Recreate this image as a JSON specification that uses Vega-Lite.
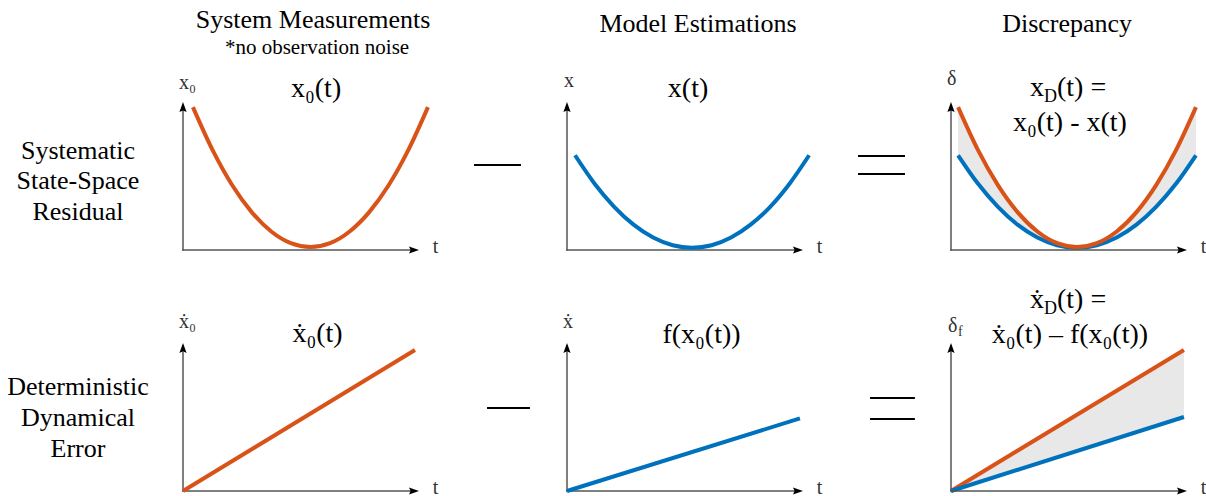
{
"$schema": "https://vega.github.io/schema/vega-lite/v6.json",
"background": "white",
"padding": 0,
"columns": 4,
"spacing": {"row": 0, "column": 148},
"bounds": "flush",
"align": "each",
"config": {"view": {"stroke": null}, "font": "'Liberation Serif', 'DejaVu Serif', serif", "text": {"font": "'Liberation Serif', 'DejaVu Serif', serif"}, "axis": {"disable": true}},
"concat": [
{"width": 35, "height": 250, "data": {"values": [{}]}, "mark": {"type": "text", "text": ""}},
{"width": 236, "height": 250, "layer": [
 {"data": {"values": [{}]}, "mark": {"type": "text", "text": ["Systematic", "State-Space", "Residual"], "fontSize": 26, "lineHeight": 30.5, "align": "center", "baseline": "alphabetic", "color": "#000"},
  "encoding": {"x": {"datum": -0.445, "type": "quantitative", "scale": {"domain": [0, 1], "nice": false, "zero": false}}, "y": {"datum": 0.615, "type": "quantitative", "scale": {"domain": [0, 1.689], "nice": false, "zero": false}}}},
 {"data": {"values": [{}]}, "mark": {"type": "text", "text": "System Measurements", "fontSize": 26, "align": "center", "baseline": "alphabetic", "color": "#000"},
  "encoding": {"x": {"datum": 0.551, "type": "quantitative", "scale": {"domain": [0, 1], "nice": false, "zero": false}}, "y": {"datum": 1.5, "type": "quantitative", "scale": {"domain": [0, 1.689], "nice": false, "zero": false}}}},
 {"data": {"values": [{}]}, "mark": {"type": "text", "text": "*no observation noise", "fontSize": 21, "align": "center", "baseline": "alphabetic", "color": "#000"},
  "encoding": {"x": {"datum": 0.568, "type": "quantitative", "scale": {"domain": [0, 1], "nice": false, "zero": false}}, "y": {"datum": 1.324, "type": "quantitative", "scale": {"domain": [0, 1.689], "nice": false, "zero": false}}}},
 {"data": {"values": [{}]}, "mark": {"type": "text", "text": "x₀(t)", "fontSize": 28, "align": "center", "baseline": "alphabetic", "color": "#000"},
  "encoding": {"x": {"datum": 0.564, "type": "quantitative", "scale": {"domain": [0, 1], "nice": false, "zero": false}}, "y": {"datum": 1.034, "type": "quantitative", "scale": {"domain": [0, 1.689], "nice": false, "zero": false}}}},
 {"data": {"values": [{}]}, "mark": {"type": "text", "text": "x₀", "fontSize": 20, "align": "left", "baseline": "alphabetic", "color": "#333"},
  "encoding": {"x": {"datum": -0.017, "type": "quantitative", "scale": {"domain": [0, 1], "nice": false, "zero": false}}, "y": {"datum": 1.088, "type": "quantitative", "scale": {"domain": [0, 1.689], "nice": false, "zero": false}}}},
 {"data": {"values": [{}]}, "mark": {"type": "text", "text": "t", "fontSize": 20, "align": "left", "baseline": "alphabetic", "color": "#333"},
  "encoding": {"x": {"datum": 1.058, "type": "quantitative", "scale": {"domain": [0, 1], "nice": false, "zero": false}}, "y": {"datum": -0.02, "type": "quantitative", "scale": {"domain": [0, 1.689], "nice": false, "zero": false}}}},
 {"data": {"values": [{}]}, "mark": {"type": "rule", "color": "#555", "strokeWidth": 1.5, "strokeCap": "square"},
  "encoding": {"x": {"datum": 0, "type": "quantitative", "scale": {"domain": [0, 1], "nice": false, "zero": false}}, "y": {"datum": 0, "type": "quantitative", "scale": {"domain": [0, 1.689], "nice": false, "zero": false}}, "y2": {"datum": 0.96}}},
 {"data": {"values": [{}]}, "mark": {"type": "rule", "color": "#555", "strokeWidth": 1.5, "strokeCap": "square"},
  "encoding": {"x": {"datum": 0, "type": "quantitative", "scale": {"domain": [0, 1], "nice": false, "zero": false}}, "x2": {"datum": 0.975}, "y": {"datum": 0, "type": "quantitative", "scale": {"domain": [0, 1.689], "nice": false, "zero": false}}}},
 {"data": {"values": [{}]}, "mark": {"type": "point", "shape": "M0,-1L0.6,0.67L0,0.4L-0.6,0.67Z", "size": 144, "filled": true, "color": "#000", "opacity": 1, "strokeWidth": 0},
  "encoding": {"x": {"datum": 0, "type": "quantitative", "scale": {"domain": [0, 1], "nice": false, "zero": false}}, "y": {"datum": 0.9595, "type": "quantitative", "scale": {"domain": [0, 1.689], "nice": false, "zero": false}}}},
 {"data": {"values": [{}]}, "mark": {"type": "point", "shape": "M1,0L-0.67,0.6L-0.4,0L-0.67,-0.6Z", "size": 144, "filled": true, "color": "#000", "opacity": 1, "strokeWidth": 0},
  "encoding": {"x": {"datum": 0.9746, "type": "quantitative", "scale": {"domain": [0, 1], "nice": false, "zero": false}}, "y": {"datum": 0, "type": "quantitative", "scale": {"domain": [0, 1.689], "nice": false, "zero": false}}}},
 {"data": {"values": [
   {"t": 0.042, "v": 0.965}, {"t": 0.125, "v": 0.676}, {"t": 0.208, "v": 0.439}, {"t": 0.291, "v": 0.256}, {"t": 0.374, "v": 0.125}, {"t": 0.457, "v": 0.046}, {"t": 0.54, "v": 0.02},
   {"t": 0.623, "v": 0.046}, {"t": 0.706, "v": 0.125}, {"t": 0.789, "v": 0.256}, {"t": 0.872, "v": 0.439}, {"t": 0.955, "v": 0.676}, {"t": 1.038, "v": 0.965}]},
  "mark": {"type": "line", "color": "#D95319", "strokeWidth": 4, "interpolate": "monotone"},
  "encoding": {"x": {"field": "t", "type": "quantitative", "scale": {"domain": [0, 1], "nice": false, "zero": false}}, "y": {"field": "v", "type": "quantitative", "scale": {"domain": [0, 1.689], "nice": false, "zero": false}}}}
]},
{"width": 236, "height": 250, "layer": [
 {"data": {"values": [{}]}, "mark": {"type": "text", "text": "Model Estimations", "fontSize": 26, "align": "center", "baseline": "alphabetic", "color": "#000"},
  "encoding": {"x": {"datum": 0.555, "type": "quantitative", "scale": {"domain": [0, 1], "nice": false, "zero": false}}, "y": {"datum": 1.473, "type": "quantitative", "scale": {"domain": [0, 1.689], "nice": false, "zero": false}}}},
 {"data": {"values": [{}]}, "mark": {"type": "text", "text": "x(t)", "fontSize": 28, "align": "center", "baseline": "alphabetic", "color": "#000"},
  "encoding": {"x": {"datum": 0.513, "type": "quantitative", "scale": {"domain": [0, 1], "nice": false, "zero": false}}, "y": {"datum": 1.034, "type": "quantitative", "scale": {"domain": [0, 1.689], "nice": false, "zero": false}}}},
 {"data": {"values": [{}]}, "mark": {"type": "text", "text": "x", "fontSize": 20, "align": "left", "baseline": "alphabetic", "color": "#333"},
  "encoding": {"x": {"datum": -0.013, "type": "quantitative", "scale": {"domain": [0, 1], "nice": false, "zero": false}}, "y": {"datum": 1.1, "type": "quantitative", "scale": {"domain": [0, 1.689], "nice": false, "zero": false}}}},
 {"data": {"values": [{}]}, "mark": {"type": "text", "text": "t", "fontSize": 20, "align": "left", "baseline": "alphabetic", "color": "#333"},
  "encoding": {"x": {"datum": 1.058, "type": "quantitative", "scale": {"domain": [0, 1], "nice": false, "zero": false}}, "y": {"datum": -0.02, "type": "quantitative", "scale": {"domain": [0, 1.689], "nice": false, "zero": false}}}},
 {"data": {"values": [{}]}, "mark": {"type": "rule", "color": "#000", "strokeWidth": 2},
  "encoding": {"x": {"datum": -0.394, "type": "quantitative", "scale": {"domain": [0, 1], "nice": false, "zero": false}}, "x2": {"datum": -0.195}, "y": {"datum": 0.574, "type": "quantitative", "scale": {"domain": [0, 1.689], "nice": false, "zero": false}}}},
 {"data": {"values": [{}]}, "mark": {"type": "rule", "color": "#555", "strokeWidth": 1.5, "strokeCap": "square"},
  "encoding": {"x": {"datum": 0, "type": "quantitative", "scale": {"domain": [0, 1], "nice": false, "zero": false}}, "y": {"datum": 0, "type": "quantitative", "scale": {"domain": [0, 1.689], "nice": false, "zero": false}}, "y2": {"datum": 0.96}}},
 {"data": {"values": [{}]}, "mark": {"type": "rule", "color": "#555", "strokeWidth": 1.5, "strokeCap": "square"},
  "encoding": {"x": {"datum": 0, "type": "quantitative", "scale": {"domain": [0, 1], "nice": false, "zero": false}}, "x2": {"datum": 0.975}, "y": {"datum": 0, "type": "quantitative", "scale": {"domain": [0, 1.689], "nice": false, "zero": false}}}},
 {"data": {"values": [{}]}, "mark": {"type": "point", "shape": "M0,-1L0.6,0.67L0,0.4L-0.6,0.67Z", "size": 144, "filled": true, "color": "#000", "opacity": 1, "strokeWidth": 0},
  "encoding": {"x": {"datum": 0, "type": "quantitative", "scale": {"domain": [0, 1], "nice": false, "zero": false}}, "y": {"datum": 0.9595, "type": "quantitative", "scale": {"domain": [0, 1.689], "nice": false, "zero": false}}}},
 {"data": {"values": [{}]}, "mark": {"type": "point", "shape": "M1,0L-0.67,0.6L-0.4,0L-0.67,-0.6Z", "size": 144, "filled": true, "color": "#000", "opacity": 1, "strokeWidth": 0},
  "encoding": {"x": {"datum": 0.9746, "type": "quantitative", "scale": {"domain": [0, 1], "nice": false, "zero": false}}, "y": {"datum": 0, "type": "quantitative", "scale": {"domain": [0, 1.689], "nice": false, "zero": false}}}},
 {"data": {"values": [
   {"t": 0.034, "v": 0.64}, {"t": 0.117, "v": 0.448}, {"t": 0.2, "v": 0.292}, {"t": 0.282, "v": 0.171}, {"t": 0.365, "v": 0.084}, {"t": 0.448, "v": 0.032}, {"t": 0.53, "v": 0.015},
   {"t": 0.613, "v": 0.032}, {"t": 0.695, "v": 0.084}, {"t": 0.778, "v": 0.171}, {"t": 0.861, "v": 0.292}, {"t": 0.943, "v": 0.448}, {"t": 1.026, "v": 0.64}]},
  "mark": {"type": "line", "color": "#0072BD", "strokeWidth": 4, "interpolate": "monotone"},
  "encoding": {"x": {"field": "t", "type": "quantitative", "scale": {"domain": [0, 1], "nice": false, "zero": false}}, "y": {"field": "v", "type": "quantitative", "scale": {"domain": [0, 1.689], "nice": false, "zero": false}}}}
]},
{"width": 236, "height": 250, "layer": [
 {"data": {"values": [{}]}, "mark": {"type": "text", "text": "Discrepancy", "fontSize": 26, "align": "center", "baseline": "alphabetic", "color": "#000"},
  "encoding": {"x": {"datum": 0.492, "type": "quantitative", "scale": {"domain": [0, 1], "nice": false, "zero": false}}, "y": {"datum": 1.473, "type": "quantitative", "scale": {"domain": [0, 1.689], "nice": false, "zero": false}}}},
 {"data": {"values": [{}]}, "mark": {"type": "text", "text": "x", "fontSize": 28, "align": "left", "baseline": "alphabetic", "color": "#000"},
  "encoding": {"x": {"datum": 0.335, "type": "quantitative", "scale": {"domain": [0, 1], "nice": false, "zero": false}}, "y": {"datum": 1.04, "type": "quantitative", "scale": {"domain": [0, 1.689], "nice": false, "zero": false}}}},
 {"data": {"values": [{}]}, "mark": {"type": "text", "text": "D", "fontSize": 18, "align": "left", "baseline": "alphabetic", "color": "#000"},
  "encoding": {"x": {"datum": 0.394, "type": "quantitative", "scale": {"domain": [0, 1], "nice": false, "zero": false}}, "y": {"datum": 1.0, "type": "quantitative", "scale": {"domain": [0, 1.689], "nice": false, "zero": false}}}},
 {"data": {"values": [{}]}, "mark": {"type": "text", "text": "(t) =", "fontSize": 28, "align": "left", "baseline": "alphabetic", "color": "#000"},
  "encoding": {"x": {"datum": 0.449, "type": "quantitative", "scale": {"domain": [0, 1], "nice": false, "zero": false}}, "y": {"datum": 1.04, "type": "quantitative", "scale": {"domain": [0, 1.689], "nice": false, "zero": false}}}},
 {"data": {"values": [{}]}, "mark": {"type": "text", "text": "x₀(t) - x(t)", "fontSize": 28, "align": "center", "baseline": "alphabetic", "color": "#000"},
  "encoding": {"x": {"datum": 0.504, "type": "quantitative", "scale": {"domain": [0, 1], "nice": false, "zero": false}}, "y": {"datum": 0.804, "type": "quantitative", "scale": {"domain": [0, 1.689], "nice": false, "zero": false}}}},
 {"data": {"values": [{}]}, "mark": {"type": "text", "text": "δ", "fontSize": 20, "align": "left", "baseline": "alphabetic", "color": "#333"},
  "encoding": {"x": {"datum": -0.017, "type": "quantitative", "scale": {"domain": [0, 1], "nice": false, "zero": false}}, "y": {"datum": 1.115, "type": "quantitative", "scale": {"domain": [0, 1.689], "nice": false, "zero": false}}}},
 {"data": {"values": [{}]}, "mark": {"type": "text", "text": "t", "fontSize": 20, "align": "left", "baseline": "alphabetic", "color": "#333"},
  "encoding": {"x": {"datum": 1.058, "type": "quantitative", "scale": {"domain": [0, 1], "nice": false, "zero": false}}, "y": {"datum": -0.02, "type": "quantitative", "scale": {"domain": [0, 1.689], "nice": false, "zero": false}}}},
 {"data": {"values": [{}]}, "mark": {"type": "rule", "color": "#000", "strokeWidth": 2},
  "encoding": {"x": {"datum": -0.394, "type": "quantitative", "scale": {"domain": [0, 1], "nice": false, "zero": false}}, "x2": {"datum": -0.195}, "y": {"datum": 0.635, "type": "quantitative", "scale": {"domain": [0, 1.689], "nice": false, "zero": false}}}},
 {"data": {"values": [{}]}, "mark": {"type": "rule", "color": "#000", "strokeWidth": 2},
  "encoding": {"x": {"datum": -0.394, "type": "quantitative", "scale": {"domain": [0, 1], "nice": false, "zero": false}}, "x2": {"datum": -0.195}, "y": {"datum": 0.514, "type": "quantitative", "scale": {"domain": [0, 1.689], "nice": false, "zero": false}}}},
 {"data": {"values": [
   {"t": 0.03, "o": 0.965, "b": 0.64}, {"t": 0.114, "o": 0.676, "b": 0.449}, {"t": 0.198, "o": 0.44, "b": 0.293}, {"t": 0.282, "o": 0.256, "b": 0.171}, {"t": 0.366, "o": 0.125, "b": 0.084}, {"t": 0.45, "o": 0.046, "b": 0.032}, {"t": 0.534, "o": 0.02, "b": 0.015},
   {"t": 0.618, "o": 0.046, "b": 0.032}, {"t": 0.702, "o": 0.125, "b": 0.084}, {"t": 0.786, "o": 0.256, "b": 0.171}, {"t": 0.87, "o": 0.44, "b": 0.293}, {"t": 0.954, "o": 0.676, "b": 0.449}, {"t": 1.038, "o": 0.965, "b": 0.64}]},
  "layer": [
   {"mark": {"type": "area", "color": "#E8E8E8", "interpolate": "monotone"},
    "encoding": {"x": {"field": "t", "type": "quantitative", "scale": {"domain": [0, 1], "nice": false, "zero": false}}, "y": {"field": "o", "type": "quantitative", "scale": {"domain": [0, 1.689], "nice": false, "zero": false}}, "y2": {"field": "b"}}},
   {"mark": {"type": "line", "color": "#0072BD", "strokeWidth": 4, "interpolate": "monotone"},
    "encoding": {"x": {"field": "t", "type": "quantitative", "scale": {"domain": [0, 1], "nice": false, "zero": false}}, "y": {"field": "b", "type": "quantitative", "scale": {"domain": [0, 1.689], "nice": false, "zero": false}}}},
   {"mark": {"type": "line", "color": "#D95319", "strokeWidth": 4, "interpolate": "monotone"},
    "encoding": {"x": {"field": "t", "type": "quantitative", "scale": {"domain": [0, 1], "nice": false, "zero": false}}, "y": {"field": "o", "type": "quantitative", "scale": {"domain": [0, 1.689], "nice": false, "zero": false}}}}
  ]},
 {"data": {"values": [{}]}, "mark": {"type": "rule", "color": "#555", "strokeWidth": 1.5, "strokeCap": "square"},
  "encoding": {"x": {"datum": 0, "type": "quantitative", "scale": {"domain": [0, 1], "nice": false, "zero": false}}, "y": {"datum": 0, "type": "quantitative", "scale": {"domain": [0, 1.689], "nice": false, "zero": false}}, "y2": {"datum": 0.96}}},
 {"data": {"values": [{}]}, "mark": {"type": "rule", "color": "#555", "strokeWidth": 1.5, "strokeCap": "square"},
  "encoding": {"x": {"datum": 0, "type": "quantitative", "scale": {"domain": [0, 1], "nice": false, "zero": false}}, "x2": {"datum": 0.975}, "y": {"datum": 0, "type": "quantitative", "scale": {"domain": [0, 1.689], "nice": false, "zero": false}}}},
 {"data": {"values": [{}]}, "mark": {"type": "point", "shape": "M0,-1L0.6,0.67L0,0.4L-0.6,0.67Z", "size": 144, "filled": true, "color": "#000", "opacity": 1, "strokeWidth": 0},
  "encoding": {"x": {"datum": 0, "type": "quantitative", "scale": {"domain": [0, 1], "nice": false, "zero": false}}, "y": {"datum": 0.9595, "type": "quantitative", "scale": {"domain": [0, 1.689], "nice": false, "zero": false}}}},
 {"data": {"values": [{}]}, "mark": {"type": "point", "shape": "M1,0L-0.67,0.6L-0.4,0L-0.67,-0.6Z", "size": 144, "filled": true, "color": "#000", "opacity": 1, "strokeWidth": 0},
  "encoding": {"x": {"datum": 0.9746, "type": "quantitative", "scale": {"domain": [0, 1], "nice": false, "zero": false}}, "y": {"datum": 0, "type": "quantitative", "scale": {"domain": [0, 1.689], "nice": false, "zero": false}}}}
]},
{"width": 35, "height": 241, "data": {"values": [{}]}, "mark": {"type": "text", "text": ""}},
{"width": 236, "height": 241, "layer": [
 {"data": {"values": [{}]}, "mark": {"type": "text", "text": ["Deterministic", "Dynamical", "Error"], "fontSize": 26, "lineHeight": 31, "align": "center", "baseline": "alphabetic", "color": "#000"},
  "encoding": {"x": {"datum": -0.445, "type": "quantitative", "scale": {"domain": [0, 1], "nice": false, "zero": false}}, "y": {"datum": 0.649, "type": "quantitative", "scale": {"domain": [0, 1.628], "nice": false, "zero": false}}}},
 {"data": {"values": [{}]}, "mark": {"type": "text", "text": "ẋ₀(t)", "fontSize": 28, "align": "center", "baseline": "alphabetic", "color": "#000"},
  "encoding": {"x": {"datum": 0.57, "type": "quantitative", "scale": {"domain": [0, 1], "nice": false, "zero": false}}, "y": {"datum": 1.007, "type": "quantitative", "scale": {"domain": [0, 1.628], "nice": false, "zero": false}}}},
 {"data": {"values": [{}]}, "mark": {"type": "text", "text": "ẋ₀", "fontSize": 20, "align": "left", "baseline": "alphabetic", "color": "#333"},
  "encoding": {"x": {"datum": -0.017, "type": "quantitative", "scale": {"domain": [0, 1], "nice": false, "zero": false}}, "y": {"datum": 1.1, "type": "quantitative", "scale": {"domain": [0, 1.628], "nice": false, "zero": false}}}},
 {"data": {"values": [{}]}, "mark": {"type": "text", "text": "t", "fontSize": 20, "align": "left", "baseline": "alphabetic", "color": "#333"},
  "encoding": {"x": {"datum": 1.058, "type": "quantitative", "scale": {"domain": [0, 1], "nice": false, "zero": false}}, "y": {"datum": -0.02, "type": "quantitative", "scale": {"domain": [0, 1.628], "nice": false, "zero": false}}}},
 {"data": {"values": [{}]}, "mark": {"type": "rule", "color": "#555", "strokeWidth": 1.5, "strokeCap": "square"},
  "encoding": {"x": {"datum": 0, "type": "quantitative", "scale": {"domain": [0, 1], "nice": false, "zero": false}}, "y": {"datum": 0, "type": "quantitative", "scale": {"domain": [0, 1.628], "nice": false, "zero": false}}, "y2": {"datum": 0.96}}},
 {"data": {"values": [{}]}, "mark": {"type": "rule", "color": "#555", "strokeWidth": 1.5, "strokeCap": "square"},
  "encoding": {"x": {"datum": 0, "type": "quantitative", "scale": {"domain": [0, 1], "nice": false, "zero": false}}, "x2": {"datum": 0.975}, "y": {"datum": 0, "type": "quantitative", "scale": {"domain": [0, 1.628], "nice": false, "zero": false}}}},
 {"data": {"values": [{}]}, "mark": {"type": "point", "shape": "M0,-1L0.6,0.67L0,0.4L-0.6,0.67Z", "size": 144, "filled": true, "color": "#000", "opacity": 1, "strokeWidth": 0},
  "encoding": {"x": {"datum": 0, "type": "quantitative", "scale": {"domain": [0, 1], "nice": false, "zero": false}}, "y": {"datum": 0.9595, "type": "quantitative", "scale": {"domain": [0, 1.628], "nice": false, "zero": false}}}},
 {"data": {"values": [{}]}, "mark": {"type": "point", "shape": "M1,0L-0.67,0.6L-0.4,0L-0.67,-0.6Z", "size": 144, "filled": true, "color": "#000", "opacity": 1, "strokeWidth": 0},
  "encoding": {"x": {"datum": 0.9746, "type": "quantitative", "scale": {"domain": [0, 1], "nice": false, "zero": false}}, "y": {"datum": 0, "type": "quantitative", "scale": {"domain": [0, 1.628], "nice": false, "zero": false}}}},
 {"data": {"values": [{"t": 0, "v": 0}, {"t": 0.983, "v": 0.953}]},
  "mark": {"type": "line", "color": "#D95319", "strokeWidth": 4},
  "encoding": {"x": {"field": "t", "type": "quantitative", "scale": {"domain": [0, 1], "nice": false, "zero": false}}, "y": {"field": "v", "type": "quantitative", "scale": {"domain": [0, 1.628], "nice": false, "zero": false}}}}
]},
{"width": 236, "height": 241, "layer": [
 {"data": {"values": [{}]}, "mark": {"type": "text", "text": "f(x₀(t))", "fontSize": 28, "align": "center", "baseline": "alphabetic", "color": "#000"},
  "encoding": {"x": {"datum": 0.57, "type": "quantitative", "scale": {"domain": [0, 1], "nice": false, "zero": false}}, "y": {"datum": 1.0, "type": "quantitative", "scale": {"domain": [0, 1.628], "nice": false, "zero": false}}}},
 {"data": {"values": [{}]}, "mark": {"type": "text", "text": "ẋ", "fontSize": 20, "align": "left", "baseline": "alphabetic", "color": "#333"},
  "encoding": {"x": {"datum": -0.017, "type": "quantitative", "scale": {"domain": [0, 1], "nice": false, "zero": false}}, "y": {"datum": 1.1, "type": "quantitative", "scale": {"domain": [0, 1.628], "nice": false, "zero": false}}}},
 {"data": {"values": [{}]}, "mark": {"type": "text", "text": "t", "fontSize": 20, "align": "left", "baseline": "alphabetic", "color": "#333"},
  "encoding": {"x": {"datum": 1.058, "type": "quantitative", "scale": {"domain": [0, 1], "nice": false, "zero": false}}, "y": {"datum": -0.02, "type": "quantitative", "scale": {"domain": [0, 1.628], "nice": false, "zero": false}}}},
 {"data": {"values": [{}]}, "mark": {"type": "rule", "color": "#000", "strokeWidth": 2},
  "encoding": {"x": {"datum": -0.339, "type": "quantitative", "scale": {"domain": [0, 1], "nice": false, "zero": false}}, "x2": {"datum": -0.157}, "y": {"datum": 0.56, "type": "quantitative", "scale": {"domain": [0, 1.628], "nice": false, "zero": false}}}},
 {"data": {"values": [{}]}, "mark": {"type": "rule", "color": "#555", "strokeWidth": 1.5, "strokeCap": "square"},
  "encoding": {"x": {"datum": 0, "type": "quantitative", "scale": {"domain": [0, 1], "nice": false, "zero": false}}, "y": {"datum": 0, "type": "quantitative", "scale": {"domain": [0, 1.628], "nice": false, "zero": false}}, "y2": {"datum": 0.96}}},
 {"data": {"values": [{}]}, "mark": {"type": "rule", "color": "#555", "strokeWidth": 1.5, "strokeCap": "square"},
  "encoding": {"x": {"datum": 0, "type": "quantitative", "scale": {"domain": [0, 1], "nice": false, "zero": false}}, "x2": {"datum": 0.975}, "y": {"datum": 0, "type": "quantitative", "scale": {"domain": [0, 1.628], "nice": false, "zero": false}}}},
 {"data": {"values": [{}]}, "mark": {"type": "point", "shape": "M0,-1L0.6,0.67L0,0.4L-0.6,0.67Z", "size": 144, "filled": true, "color": "#000", "opacity": 1, "strokeWidth": 0},
  "encoding": {"x": {"datum": 0, "type": "quantitative", "scale": {"domain": [0, 1], "nice": false, "zero": false}}, "y": {"datum": 0.9595, "type": "quantitative", "scale": {"domain": [0, 1.628], "nice": false, "zero": false}}}},
 {"data": {"values": [{}]}, "mark": {"type": "point", "shape": "M1,0L-0.67,0.6L-0.4,0L-0.67,-0.6Z", "size": 144, "filled": true, "color": "#000", "opacity": 1, "strokeWidth": 0},
  "encoding": {"x": {"datum": 0.9746, "type": "quantitative", "scale": {"domain": [0, 1], "nice": false, "zero": false}}, "y": {"datum": 0, "type": "quantitative", "scale": {"domain": [0, 1.628], "nice": false, "zero": false}}}},
 {"data": {"values": [{"t": 0, "v": 0}, {"t": 0.987, "v": 0.49}]},
  "mark": {"type": "line", "color": "#0072BD", "strokeWidth": 4},
  "encoding": {"x": {"field": "t", "type": "quantitative", "scale": {"domain": [0, 1], "nice": false, "zero": false}}, "y": {"field": "v", "type": "quantitative", "scale": {"domain": [0, 1.628], "nice": false, "zero": false}}}}
]},
{"width": 236, "height": 241, "layer": [
 {"data": {"values": [{}]}, "mark": {"type": "text", "text": "ẋ", "fontSize": 28, "align": "left", "baseline": "alphabetic", "color": "#000"},
  "encoding": {"x": {"datum": 0.335, "type": "quantitative", "scale": {"domain": [0, 1], "nice": false, "zero": false}}, "y": {"datum": 1.236, "type": "quantitative", "scale": {"domain": [0, 1.628], "nice": false, "zero": false}}}},
 {"data": {"values": [{}]}, "mark": {"type": "text", "text": "D", "fontSize": 18, "align": "left", "baseline": "alphabetic", "color": "#000"},
  "encoding": {"x": {"datum": 0.394, "type": "quantitative", "scale": {"domain": [0, 1], "nice": false, "zero": false}}, "y": {"datum": 1.196, "type": "quantitative", "scale": {"domain": [0, 1.628], "nice": false, "zero": false}}}},
 {"data": {"values": [{}]}, "mark": {"type": "text", "text": "(t) =", "fontSize": 28, "align": "left", "baseline": "alphabetic", "color": "#000"},
  "encoding": {"x": {"datum": 0.449, "type": "quantitative", "scale": {"domain": [0, 1], "nice": false, "zero": false}}, "y": {"datum": 1.236, "type": "quantitative", "scale": {"domain": [0, 1.628], "nice": false, "zero": false}}}},
 {"data": {"values": [{}]}, "mark": {"type": "text", "text": "ẋ₀(t) – f(x₀(t))", "fontSize": 28, "align": "center", "baseline": "alphabetic", "color": "#000"},
  "encoding": {"x": {"datum": 0.504, "type": "quantitative", "scale": {"domain": [0, 1], "nice": false, "zero": false}}, "y": {"datum": 1.0, "type": "quantitative", "scale": {"domain": [0, 1.628], "nice": false, "zero": false}}}},
 {"data": {"values": [{}]}, "mark": {"type": "text", "text": "δ", "fontSize": 20, "align": "left", "baseline": "alphabetic", "color": "#333"},
  "encoding": {"x": {"datum": -0.013, "type": "quantitative", "scale": {"domain": [0, 1], "nice": false, "zero": false}}, "y": {"datum": 1.074, "type": "quantitative", "scale": {"domain": [0, 1.628], "nice": false, "zero": false}}}},
 {"data": {"values": [{}]}, "mark": {"type": "text", "text": "f", "fontSize": 14, "align": "left", "baseline": "alphabetic", "color": "#333"},
  "encoding": {"x": {"datum": 0.03, "type": "quantitative", "scale": {"domain": [0, 1], "nice": false, "zero": false}}, "y": {"datum": 1.047, "type": "quantitative", "scale": {"domain": [0, 1.628], "nice": false, "zero": false}}}},
 {"data": {"values": [{}]}, "mark": {"type": "text", "text": "t", "fontSize": 20, "align": "left", "baseline": "alphabetic", "color": "#333"},
  "encoding": {"x": {"datum": 1.058, "type": "quantitative", "scale": {"domain": [0, 1], "nice": false, "zero": false}}, "y": {"datum": -0.02, "type": "quantitative", "scale": {"domain": [0, 1.628], "nice": false, "zero": false}}}},
 {"data": {"values": [{}]}, "mark": {"type": "rule", "color": "#000", "strokeWidth": 2},
  "encoding": {"x": {"datum": -0.343, "type": "quantitative", "scale": {"domain": [0, 1], "nice": false, "zero": false}}, "x2": {"datum": -0.153}, "y": {"datum": 0.628, "type": "quantitative", "scale": {"domain": [0, 1.628], "nice": false, "zero": false}}}},
 {"data": {"values": [{}]}, "mark": {"type": "rule", "color": "#000", "strokeWidth": 2},
  "encoding": {"x": {"datum": -0.343, "type": "quantitative", "scale": {"domain": [0, 1], "nice": false, "zero": false}}, "x2": {"datum": -0.153}, "y": {"datum": 0.486, "type": "quantitative", "scale": {"domain": [0, 1.628], "nice": false, "zero": false}}}},
 {"data": {"values": [{"t": 0, "o": 0, "b": 0}, {"t": 0.987, "o": 0.953, "b": 0.5}]},
  "layer": [
   {"mark": {"type": "area", "color": "#E8E8E8"},
    "encoding": {"x": {"field": "t", "type": "quantitative", "scale": {"domain": [0, 1], "nice": false, "zero": false}}, "y": {"field": "o", "type": "quantitative", "scale": {"domain": [0, 1.628], "nice": false, "zero": false}}, "y2": {"field": "b"}}},
   {"mark": {"type": "line", "color": "#D95319", "strokeWidth": 4},
    "encoding": {"x": {"field": "t", "type": "quantitative", "scale": {"domain": [0, 1], "nice": false, "zero": false}}, "y": {"field": "o", "type": "quantitative", "scale": {"domain": [0, 1.628], "nice": false, "zero": false}}}},
   {"mark": {"type": "line", "color": "#0072BD", "strokeWidth": 4},
    "encoding": {"x": {"field": "t", "type": "quantitative", "scale": {"domain": [0, 1], "nice": false, "zero": false}}, "y": {"field": "b", "type": "quantitative", "scale": {"domain": [0, 1.628], "nice": false, "zero": false}}}}
  ]},
 {"data": {"values": [{}]}, "mark": {"type": "rule", "color": "#555", "strokeWidth": 1.5, "strokeCap": "square"},
  "encoding": {"x": {"datum": 0, "type": "quantitative", "scale": {"domain": [0, 1], "nice": false, "zero": false}}, "y": {"datum": 0, "type": "quantitative", "scale": {"domain": [0, 1.628], "nice": false, "zero": false}}, "y2": {"datum": 0.96}}},
 {"data": {"values": [{}]}, "mark": {"type": "rule", "color": "#555", "strokeWidth": 1.5, "strokeCap": "square"},
  "encoding": {"x": {"datum": 0, "type": "quantitative", "scale": {"domain": [0, 1], "nice": false, "zero": false}}, "x2": {"datum": 0.975}, "y": {"datum": 0, "type": "quantitative", "scale": {"domain": [0, 1.628], "nice": false, "zero": false}}}},
 {"data": {"values": [{}]}, "mark": {"type": "point", "shape": "M0,-1L0.6,0.67L0,0.4L-0.6,0.67Z", "size": 144, "filled": true, "color": "#000", "opacity": 1, "strokeWidth": 0},
  "encoding": {"x": {"datum": 0, "type": "quantitative", "scale": {"domain": [0, 1], "nice": false, "zero": false}}, "y": {"datum": 0.9595, "type": "quantitative", "scale": {"domain": [0, 1.628], "nice": false, "zero": false}}}},
 {"data": {"values": [{}]}, "mark": {"type": "point", "shape": "M1,0L-0.67,0.6L-0.4,0L-0.67,-0.6Z", "size": 144, "filled": true, "color": "#000", "opacity": 1, "strokeWidth": 0},
  "encoding": {"x": {"datum": 0.9746, "type": "quantitative", "scale": {"domain": [0, 1], "nice": false, "zero": false}}, "y": {"datum": 0, "type": "quantitative", "scale": {"domain": [0, 1.628], "nice": false, "zero": false}}}}
]}
]
}
